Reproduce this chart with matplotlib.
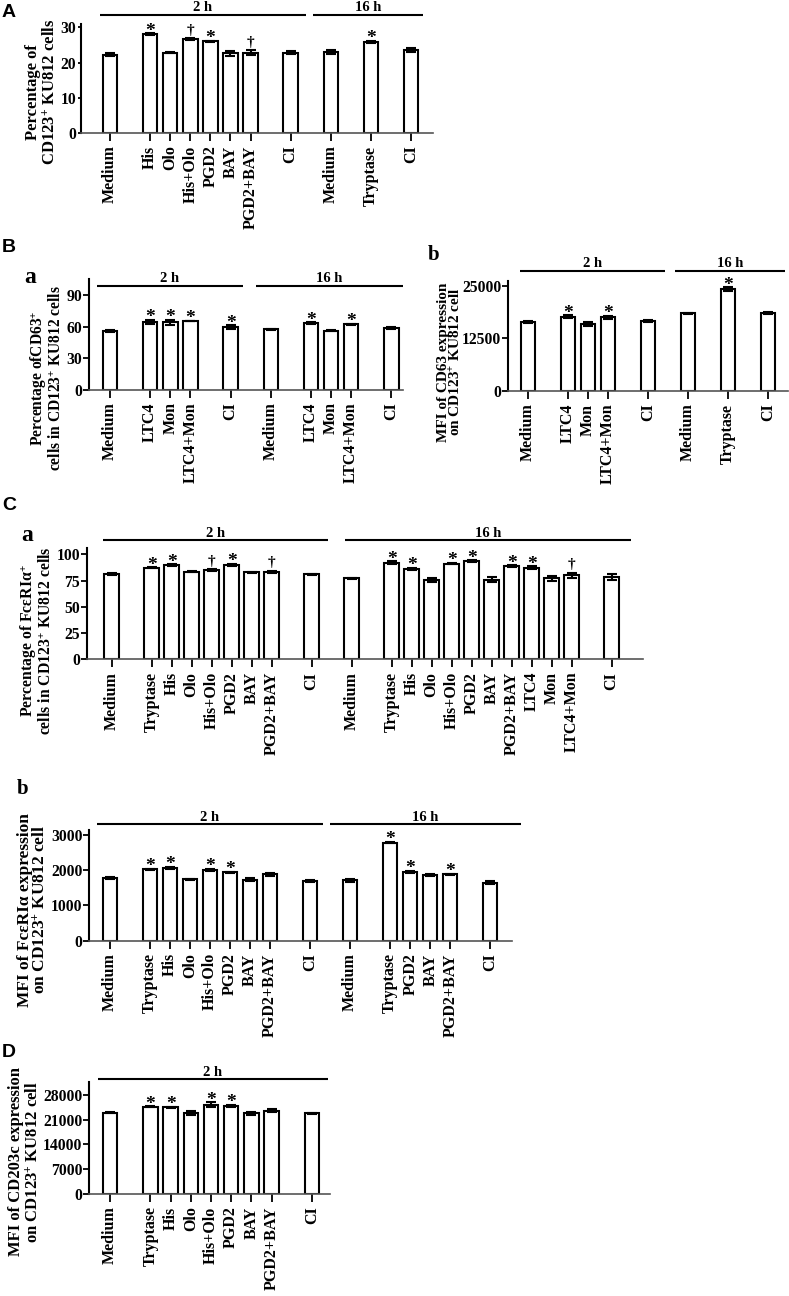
import matplotlib
matplotlib.use('Agg')
import matplotlib.pyplot as plt
import matplotlib.transforms as mtransforms

plt.rcParams['font.family'] = ['Liberation Serif', 'DejaVu Serif']
plt.rcParams['font.weight'] = 'bold'
plt.rcParams['mathtext.fontset'] = 'custom'
plt.rcParams['mathtext.rm'] = 'Liberation Serif:bold'
plt.rcParams['mathtext.it'] = 'Liberation Serif:bold:italic'
plt.rcParams['mathtext.bf'] = 'Liberation Serif:bold'

# ---------------- datos ----------------
# A
A_labels = ['Medium', 'His', 'Olo', 'His+Olo', 'PGD2', 'BAY', 'PGD2+BAY', 'CI',
            'Medium', 'Tryptase', 'CI']
A_pos = [0, 2, 3, 4, 5, 6, 7, 9, 11, 13, 15]
A_vals = [22.2, 28.1, 22.8, 26.7, 26.1, 22.6, 22.8, 22.8, 23.1, 25.9, 23.6]
A_err = [0.4, 0.2, 0.2, 0.2, 0.15, 0.6, 0.7, 0.35, 0.6, 0.3, 0.6]
A_marks = ['', '*', '', '†', '*', '', '†', '', '', '*', '']

# B a
Ba_labels = ['Medium', 'LTC4', 'Mon', 'LTC4+Mon', 'CI',
             'Medium', 'LTC4', 'Mon', 'LTC4+Mon', 'CI']
Ba_pos = [0, 2, 3, 4, 6, 8, 10, 11, 12, 14]
Ba_vals = [55.9, 64.7, 64.1, 65.4, 59.4, 57.5, 63.2, 56.2, 62.2, 58.4]
Ba_err = [0.5, 2.0, 2.5, 0.4, 2.0, 0.6, 0.8, 0.6, 0.4, 1.0]
Ba_marks = ['', '*', '*', '*', '*', '', '*', '', '*', '']

# B b
Bb_labels = ['Medium', 'LTC4', 'Mon', 'LTC4+Mon', 'CI', 'Medium', 'Tryptase', 'CI']
Bb_pos = [0, 2, 3, 4, 6, 8, 10, 12]
Bb_vals = [16300, 17640, 15900, 17480, 16610, 18430, 24210, 18430]
Bb_err = [250, 400, 400, 350, 200, 200, 450, 250]
Bb_marks = ['', '*', '', '*', '', '', '*', '']

# C a
Ca_labels = ['Medium', 'Tryptase', 'His', 'Olo', 'His+Olo', 'PGD2', 'BAY', 'PGD2+BAY', 'CI',
             'Medium', 'Tryptase', 'His', 'Olo', 'His+Olo', 'PGD2', 'BAY', 'PGD2+BAY',
             'LTC4', 'Mon', 'LTC4+Mon', 'CI']
Ca_pos = [0, 2, 3, 4, 5, 6, 7, 8, 10, 12, 14, 15, 16, 17, 18, 19, 20, 21, 22, 23, 25]
Ca_vals = [81.0, 87.3, 89.5, 83.5, 85.1, 89.8, 82.9, 83.2, 81.0,
           77.1, 92.1, 86.3, 75.6, 91.1, 93.7, 75.9, 88.9, 87.3, 77.1, 80.0, 78.4]
Ca_err = [0.8, 0.5, 0.8, 0.8, 0.8, 1.2, 0.5, 1.0, 0.4,
          0.5, 1.2, 0.8, 2.0, 0.8, 0.8, 2.5, 0.8, 1.2, 2.5, 2.5, 2.5]
Ca_marks = ['', '*', '*', '', '†', '*', '', '†', '',
            '', '*', '*', '', '*', '*', '', '*', '*', '', '†', '']

# C b
Cb_labels = ['Medium', 'Tryptase', 'His', 'Olo', 'His+Olo', 'PGD2', 'BAY', 'PGD2+BAY', 'CI',
             'Medium', 'Tryptase', 'PGD2', 'BAY', 'PGD2+BAY', 'CI']
Cb_pos = [0, 2, 3, 4, 5, 6, 7, 8, 10, 12, 14, 15, 16, 17, 19]
Cb_vals = [1770, 2025, 2063, 1741, 2006, 1940, 1731, 1883, 1694,
           1710, 2782, 1959, 1864, 1883, 1647]
Cb_err = [25, 20, 30, 20, 40, 20, 35, 40, 15, 30, 20, 25, 15, 20, 40]
Cb_marks = ['', '*', '*', '', '*', '*', '', '', '', '', '*', '*', '', '*', '']

# D
D_labels = ['Medium', 'Tryptase', 'His', 'Olo', 'His+Olo', 'PGD2', 'BAY', 'PGD2+BAY', 'CI']
D_pos = [0, 2, 3, 4, 5, 6, 7, 8, 10]
D_vals = [23000, 24700, 24500, 23000, 25200, 24900, 22800, 23600, 22800]
D_err = [200, 150, 150, 600, 700, 350, 350, 500, 200]
D_marks = ['', '*', '*', '', '*', '*', '', '', '']

# ---------------- figura ----------------
W, H = 789, 1296
fig = plt.figure(figsize=(W / 100, H / 100), dpi=100)


def make_axes(left, right, top, bottom):
    # coordenadas en pixeles de la imagen
    return fig.add_axes([left / W, 1 - bottom / H, (right - left) / W, (bottom - top) / H])


def draw_panel(ax, pos, vals, errs, labels, marks, xlim, ylim, yticks, groups, head_y,
               ytick_len=4):
    ax.bar(pos, vals, width=0.72, color='white', edgecolor='black', linewidth=1.5, zorder=2)
    ax.errorbar(pos, vals, yerr=errs, fmt='none', ecolor='black', elinewidth=1.5,
                capsize=3.5, capthick=1.5, zorder=3)
    for x, v, e, m in zip(pos, vals, errs, marks):
        if m == '*':
            ax.annotate(m, (x, v + e), xytext=(0, -1.8), textcoords='offset points',
                        ha='center', va='baseline', fontsize=14, annotation_clip=False)
        elif m == '†':
            ax.annotate(m, (x, v + e), xytext=(0, 3.3), textcoords='offset points',
                        ha='center', va='baseline', fontsize=11, annotation_clip=False)
    ax.set_xlim(*xlim)
    ax.set_ylim(*ylim)
    ax.set_xticks(pos)
    ax.set_xticklabels(labels, rotation=90, fontsize=11.5)
    ax.set_yticks(yticks)
    ax.set_yticklabels([str(t) for t in yticks], fontsize=11.3)
    ax.spines['top'].set_visible(False)
    ax.spines['right'].set_visible(False)
    ax.spines['left'].set_linewidth(1.5)
    ax.spines['bottom'].set_linewidth(1.2)
    ax.spines['bottom'].set_color('#555555')
    ax.tick_params(axis='x', direction='out', length=6, width=1.3, pad=3, color='black')
    ax.tick_params(axis='y', direction='out', length=ytick_len, width=1.3, pad=1)
    trans = mtransforms.blended_transform_factory(ax.transData, ax.transAxes)
    for name, x0, x1 in groups:
        ax.plot([x0, x1], [head_y, head_y], transform=trans, color='black', lw=1.5,
                clip_on=False, solid_capstyle='butt')
        ax.annotate(name, ((x0 + x1) / 2, head_y), xycoords=trans, xytext=(0, 2.5),
                    textcoords='offset points', ha='center', va='baseline', fontsize=10.5,
                    annotation_clip=False)


def ylabel(x, y, text, size, ls):
    fig.text(x / W, 1 - y / H, text, rotation=90, ha='center', va='center',
             multialignment='center', fontsize=size, linespacing=ls)


def letter(x, y, text, sans=False, size=14):
    if sans:
        fig.text(x / W, 1 - y / H, text, ha='left', va='baseline', fontsize=size,
                 family=['Liberation Sans', 'DejaVu Sans'], weight='bold')
    else:
        fig.text(x / W, 1 - y / H, text, ha='left', va='baseline', fontsize=size, weight='bold')


# Panel A
axA = make_axes(81, 433, 23.8, 133)
draw_panel(axA, A_pos, A_vals, A_err, A_labels, A_marks, (-1.445, 16.09), (0, 31),
           [0, 10, 20, 30], [('2 h', -0.5, 9.77), ('16 h', 10.1, 15.6)], 1.081, ytick_len=2.5)
ylabel(42, 92, 'Percentage of\nCD123$^{+}$ KU812 cells', 12, 1.15)

# Panel B a
axBa = make_axes(89.3, 403, 279.3, 390)
draw_panel(axBa, Ba_pos, Ba_vals, Ba_err, Ba_labels, Ba_marks, (-1.03, 14.58), (0, 104.9),
           [0, 30, 60, 90], [('2 h', -0.63, 6.6), ('16 h', 7.26, 14.56)], 0.942)
ylabel(46.5, 378, 'Percentage ofCD63$^{+}$\ncells in CD123$^{+}$ KU812 cells', 11.2, 0.95)

# Panel B b
axBb = make_axes(508.3, 788, 280.7, 391)
draw_panel(axBb, Bb_pos, Bb_vals, Bb_err, Bb_labels, Bb_marks, (-0.97, 13.0), (0, 26190),
           [0, 12500, 25000], [('2 h', -0.39, 6.87), ('16 h', 7.37, 12.87)], 1.091)
ylabel(450, 362, 'MFI of CD63 expression\non CD123$^{+}$ KU812 cell', 11, 0.9)

# Panel C a
axCa = make_axes(87.3, 643, 548.3, 659.3)
draw_panel(axCa, Ca_pos, Ca_vals, Ca_err, Ca_labels, Ca_marks, (-1.22, 26.57), (0, 105.7),
           [0, 25, 50, 75, 100], [('2 h', -0.42, 10.83), ('16 h', 11.67, 25.99)], 1.072)
ylabel(37, 641, 'Percentage of FcεRIα$^{+}$\ncells in CD123$^{+}$ KU812 cells', 11.3, 0.95)

# Panel C b
axCb = make_axes(89.3, 512.3, 830, 940.7)
draw_panel(axCb, Cb_pos, Cb_vals, Cb_err, Cb_labels, Cb_marks, (-1.035, 20.1), (0, 3142),
           [0, 1000, 2000, 3000], [('2 h', -0.67, 10.63), ('16 h', 11.0, 20.53)], 1.054)
ylabel(33, 910, 'MFI of FcεRIα expression\non CD123$^{+}$ KU812 cell', 12.5, 0.9)

# Panel D
axD = make_axes(89.3, 330, 1082.3, 1194)
draw_panel(axD, D_pos, D_vals, D_err, D_labels, D_marks, (-1.025, 10.89), (0, 31590),
           [0, 7000, 14000, 21000, 28000], [('2 h', -0.61, 10.81)], 1.027)
ylabel(25, 1162, 'MFI of CD203c expression\non CD123$^{+}$ KU812 cell', 12, 1.1)

# letras de los paneles
letter(2, 17, 'A', sans=True)
letter(2, 252, 'B', sans=True)
letter(2, 510, 'C', sans=True)
letter(2, 1057, 'D', sans=True)
letter(24, 283, 'a', size=17)
letter(428, 260, 'b', size=15)
letter(21, 541, 'a', size=17)
letter(17, 794, 'b', size=15)

fig.savefig('out.png', dpi=100)
